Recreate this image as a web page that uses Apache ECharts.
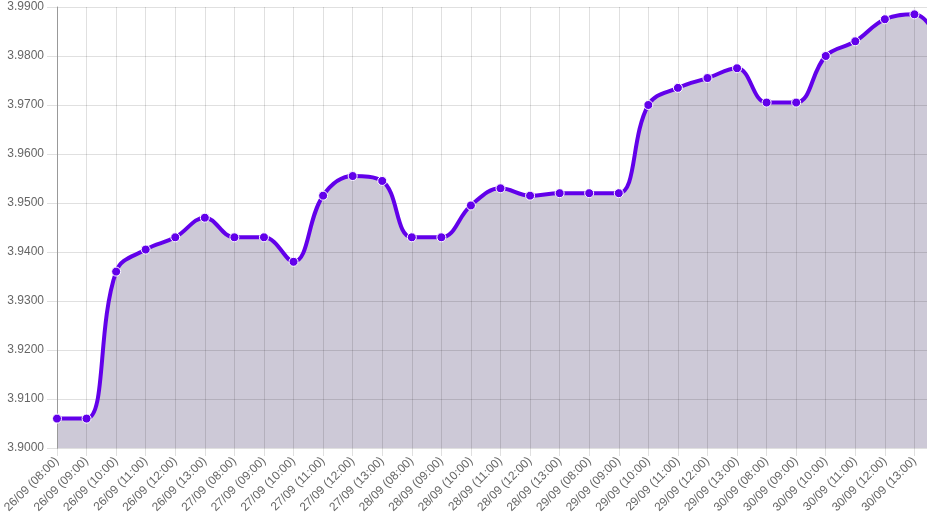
<!DOCTYPE html>
<html>
<head>
<meta charset="utf-8">
<script src="https://cdn.jsdelivr.net/npm/echarts@6/dist/echarts.min.js"></script>
<style>
    html, body { margin: 0; padding: 0; background: #fff; overflow: hidden; }
    /* the chart is a bit wider than the window, its last point falls off the right edge */
    #chart { width: 944px; height: 522px; }
</style>
</head>
<body>
<div id="chart"></div>
<script>
var days = ['26/09', '27/09', '28/09', '29/09', '30/09'];
var hours = ['08:00', '09:00', '10:00', '11:00', '12:00', '13:00'];

// category labels, plus one more point that falls past the right edge
var labels = [];
for (var d = 0; d < days.length; d++) {
    for (var h = 0; h < hours.length; h++) {
        labels.push(days[d] + ' (' + hours[h] + ')');
    }
}
labels.push('01/10 (08:00)');

var rates = [
    3.9060, 3.9060, 3.9360, 3.9405, 3.9430, 3.9470,
    3.9430, 3.9430, 3.9380, 3.9515, 3.9555, 3.9545,
    3.9430, 3.9430, 3.9495, 3.9530, 3.9515, 3.9520,
    3.9520, 3.9520, 3.9700, 3.9735, 3.9755, 3.9775,
    3.9705, 3.9705, 3.9800, 3.9830, 3.9875, 3.9885,
    3.9810
];

var yTicks = { min: 3.90, max: 3.99, step: 0.01 };

var myChart = echarts.init(document.getElementById('chart'));
var option = {
    animation: false,
    backgroundColor: '#fff',
    grid: {
        left: 57,
        top: 7,
        bottom: 74,
        right: 0
    },
    xAxis: {
        type: 'category',
        data: labels,
        boundaryGap: false,
        z: 3,
        axisLine: { show: false },
        axisTick: {
            show: true,
            length: 8,
            lineStyle: { color: 'rgba(0,0,0,0.12)' }
        },
        splitLine: {
            show: true,
            lineStyle: { color: 'rgba(0,0,0,0.12)' }
        },
        axisLabel: {
            rotate: 45,
            interval: function (i) { return i < 30; },
            color: '#666',
            fontSize: 12,
            fontFamily: 'Liberation Sans, Arial, sans-serif',
            margin: 11
        }
    },
    yAxis: {
        type: 'value',
        min: yTicks.min,
        max: yTicks.max,
        interval: yTicks.step,
        z: 3,
        axisLine: {
            show: true,
            lineStyle: { color: '#999' }
        },
        axisTick: {
            show: true,
            length: 10,
            lineStyle: { color: 'rgba(0,0,0,0.12)' }
        },
        splitLine: {
            show: true,
            lineStyle: { color: 'rgba(0,0,0,0.12)' }
        },
        axisLabel: {
            color: '#666',
            fontSize: 12,
            fontFamily: 'Liberation Sans, Arial, sans-serif',
            margin: 13,
            formatter: function (v) { return v.toFixed(4); }
        }
    },
    series: [{
        // area under the curve, drawn beneath the grid lines
        type: 'line',
        data: rates,
        smooth: 0.4,
        z: 1,
        showSymbol: false,
        lineStyle: { width: 0 },
        areaStyle: { color: '#cdc9d7', opacity: 1 },
        silent: true
    }, {
        name: 'Rate',
        type: 'line',
        data: rates,
        smooth: 0.4,
        z: 5,
        symbol: 'circle',
        symbolSize: 9,
        lineStyle: { color: '#6200ea', width: 4 },
        itemStyle: { color: '#6200ea', borderColor: '#fff', borderWidth: 1 }
    }]
};
myChart.setOption(option);
</script>
</body>
</html>
